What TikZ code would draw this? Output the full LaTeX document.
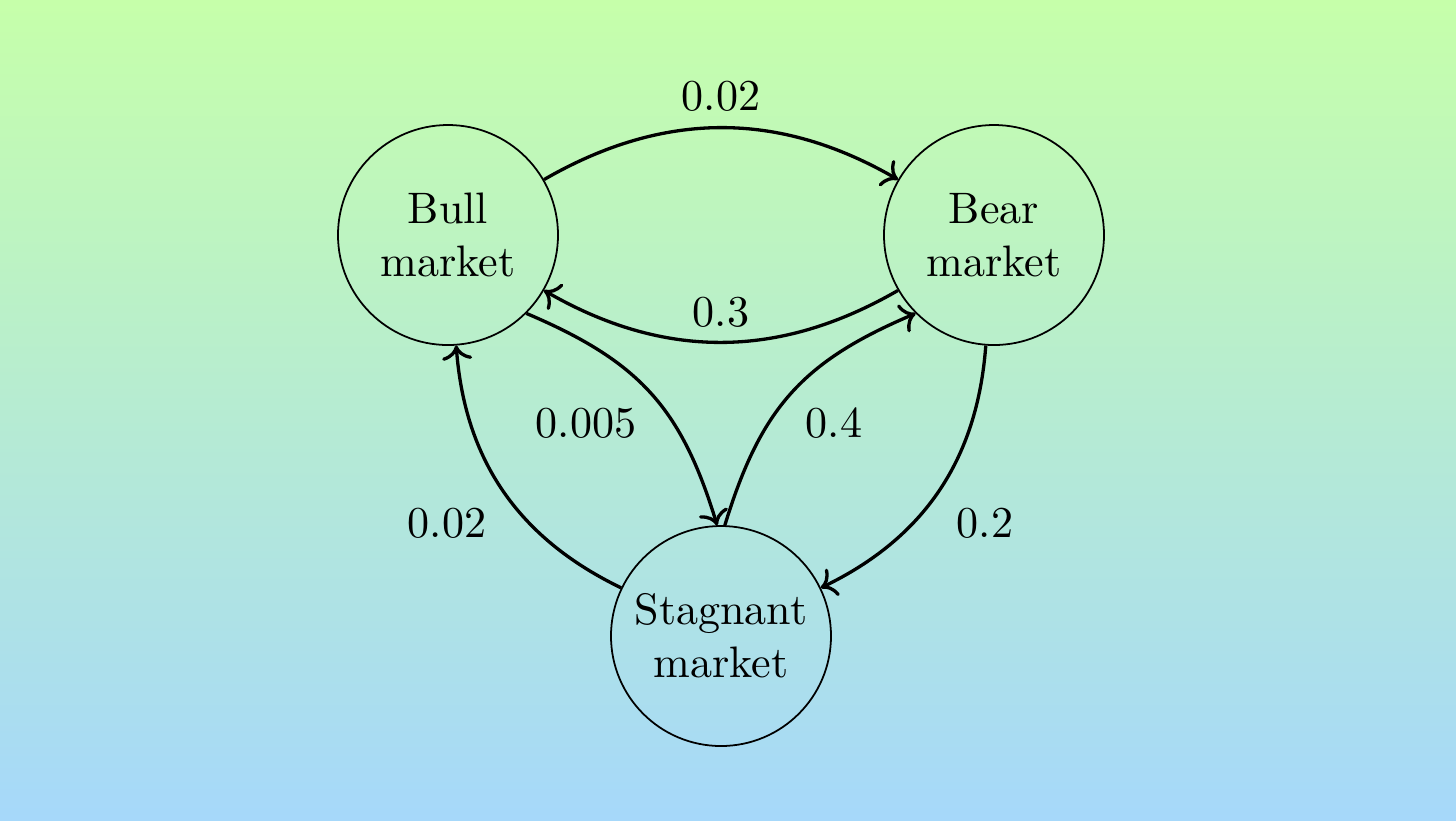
\documentclass[tikz,border=0pt]{standalone}
\usetikzlibrary{arrows.meta}
\definecolor{bgtop}{RGB}{198,255,170}
\definecolor{bgbot}{RGB}{166,216,250}
\tikzset{
  state/.style={circle, draw=black, line width=0.4pt, inner sep=0pt, minimum size=49.9pt, align=center, font=\normalsize},
  trans/.style={->, line width=0.75pt},
  prob/.style={font=\normalsize, inner sep=0pt}
}
\begin{document}
\begin{tikzpicture}[x=0.2268pt, y=-0.2268pt]
\shade[top color=bgtop, bottom color=bgbot] (0,0) rectangle (1456,820);
\useasboundingbox (0,0) rectangle (1456,820);
\node[state] (bull) at (448,235) {Bull\\market};
\node[state] (bear) at (994,235) {Bear\\market};
\node[state] (stag) at (721,636) {Stagnant\\market};
\draw[trans] (bull) to[bend left=30] (bear);
\draw[trans] (bear) to[bend left=30] (bull);
\draw[trans] (bull.-45) to[bend left=25, looseness=1.1] (stag.92);
\draw[trans] (stag.88) to[bend left=25, looseness=1.1] (bear.225);
\draw[trans] (stag) to[bend left=30] (bull);
\draw[trans] (bear) to[bend left=30] (stag);
\node[prob] (p1) at (721,96) {0.02};
\node[prob] (p2) at (721,312) {0.3};
\node[prob] (p3) at (586,423) {0.005};
\node[prob] (p4) at (834,423) {0.4};
\node[prob] (p5) at (447,523) {0.02};
\node[prob] (p6) at (985,523) {0.2};
\end{tikzpicture}
\end{document}
